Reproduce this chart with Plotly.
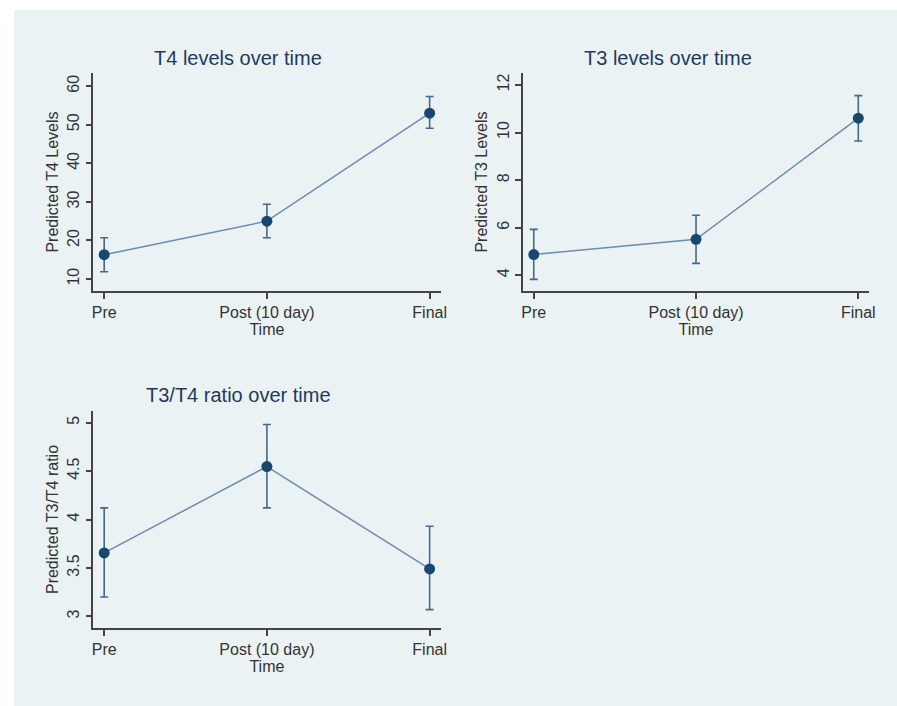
import plotly.graph_objects as go

categories = ["Pre", "Post (10 day)", "Final"]

t4_mean = [16.3, 25.0, 53.0]
t4_lower = [11.9, 20.7, 49.1]
t4_upper = [20.7, 29.4, 57.3]

t3_mean = [4.87, 5.51, 10.6]
t3_lower = [3.83, 4.50, 9.64]
t3_upper = [5.93, 6.52, 11.55]

ratio_mean = [3.655, 4.546, 3.49]
ratio_lower = [3.20, 4.12, 3.07]
ratio_upper = [4.12, 4.98, 3.93]

titles = ["T4 levels over time", "T3 levels over time", "T3/T4 ratio over time"]
ytitles = ["Predicted T4 Levels", "Predicted T3 Levels", "Predicted T3/T4 ratio"]
yticks = [[10, 20, 30, 40, 50, 60], [4, 6, 8, 10, 12], [3, 3.5, 4, 4.5, 5]]
yticktext = [["10", "20", "30", "40", "50", "60"], ["4", "6", "8", "10", "12"], ["3", "3.5", "4", "4.5", "5"]]
yranges = [[6.9, 63.4], [3.34, 12.5], [2.88, 5.12]]

W, H = 897, 706
FONT = "Arial, Liberation Sans, sans-serif"
BG = "#eaf2f3"
LINE_C = "#6a8db0"
MARK_C = "#1a476f"
ERR_C = "#44698f"

series = [(t4_mean, t4_lower, t4_upper), (t3_mean, t3_lower, t3_upper), (ratio_mean, ratio_lower, ratio_upper)]
# panel pixel boxes: x0, x1, ytop, ybottom
boxes = [(93, 443, 73, 291), (526, 875, 73, 291), (93, 443, 411, 628)]
title_pos = [(239, 58), (672, 58), (239, 395)]


def px(x):
    return x / W


def py(y):
    return 1 - y / H


fig = go.Figure()
layout = dict(
    width=W, height=H, margin=dict(l=0, r=0, t=0, b=0),
    paper_bgcolor="white", plot_bgcolor="white", showlegend=False,
    font=dict(family=FONT, color="#333333"),
)
annotations = []
for i, (m, lo, up) in enumerate(series):
    n = "" if i == 0 else str(i + 1)
    xa, ya = "x" + n, "y" + n
    plus = [u - v for u, v in zip(up, m)]
    minus = [v - l for v, l in zip(m, lo)]
    fig.add_trace(go.Scatter(
        x=[0, 1, 2], y=m, mode="lines+markers", xaxis=xa, yaxis=ya,
        line=dict(color=LINE_C, width=1.5),
        marker=dict(color=MARK_C, size=11),
        error_y=dict(type="data", array=plus, arrayminus=minus, color=ERR_C, thickness=1.6, width=4),
        cliponaxis=False,
    ))
    x0, x1, yt, yb = boxes[i]
    layout["xaxis" + n] = dict(
        domain=[px(x0), px(x1)], anchor=ya, range=[-0.067, 2.067],
        tickmode="array", tickvals=[0, 1, 2], ticktext=categories,
        showgrid=False, zeroline=False, showline=True, linecolor="#444444", linewidth=1.5,
        ticks="outside", ticklen=6, tickcolor="#444444", tickwidth=1.5,
        tickfont=dict(size=16, color="#333333"),
        title=dict(text="Time", font=dict(size=16, color="#333333"), standoff=0),
    )
    layout["yaxis" + n] = dict(
        domain=[py(yb), py(yt)], anchor=xa, range=yranges[i],
        tickmode="array", tickvals=yticks[i], ticktext=yticktext[i], tickangle=-90,
        showgrid=True, gridcolor=BG, gridwidth=1.2, zeroline=False,
        showline=True, linecolor="#444444", linewidth=1.5,
        ticks="outside", ticklen=6, tickcolor="#444444", tickwidth=1.5,
        tickfont=dict(size=16, color="#333333"),
        title=dict(text=ytitles[i], font=dict(size=16, color="#333333"), standoff=3),
    )
    tx, ty = title_pos[i]
    annotations.append(dict(
        text=titles[i], x=px(tx), y=py(ty), xref="paper", yref="paper",
        xanchor="center", yanchor="middle", showarrow=False,
        font=dict(size=20, color="#1e3a60", family=FONT),
    ))

layout["annotations"] = annotations
layout["shapes"] = [dict(type="rect", xref="paper", yref="paper", x0=px(13), x1=1.01, y0=-0.01, y1=py(10),
                         fillcolor=BG, line=dict(width=0), layer="below")]
fig.update_layout(**layout)
fig.write_html(
    "out.html",
    config={"displayModeBar": False},
    post_script="document.body.style.margin='0';document.body.style.overflow='hidden';",
)
